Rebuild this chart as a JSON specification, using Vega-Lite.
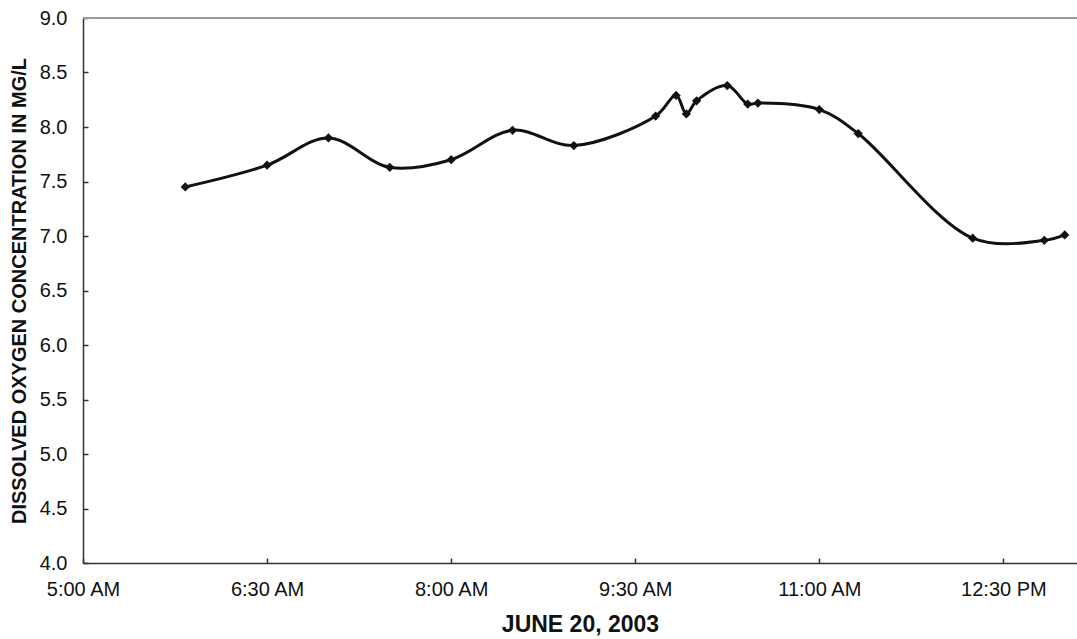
{
  "$schema": "https://vega.github.io/schema/vega-lite/v6.json",
  "width": 994,
  "height": 545,
  "autosize": "none",
  "padding": {"left": 83, "top": 18, "right": 0, "bottom": 76},
  "background": "white",
  "config": {
    "view": {"stroke": null},
    "font": "Liberation Sans",
    "axis": {"labelFont": "Liberation Sans", "titleFont": "Liberation Sans", "labelColor": "#111", "titleColor": "#111"}
  },
  "data": {
    "values": [
      {"time": "2003-06-20T05:50:00Z", "do": 7.45},
      {"time": "2003-06-20T06:30:00Z", "do": 7.65},
      {"time": "2003-06-20T07:00:00Z", "do": 7.90},
      {"time": "2003-06-20T07:30:00Z", "do": 7.63},
      {"time": "2003-06-20T08:00:00Z", "do": 7.70},
      {"time": "2003-06-20T08:30:00Z", "do": 7.97},
      {"time": "2003-06-20T09:00:00Z", "do": 7.83},
      {"time": "2003-06-20T09:40:00Z", "do": 8.10},
      {"time": "2003-06-20T09:50:00Z", "do": 8.29},
      {"time": "2003-06-20T09:55:00Z", "do": 8.12},
      {"time": "2003-06-20T10:00:00Z", "do": 8.24},
      {"time": "2003-06-20T10:15:00Z", "do": 8.38},
      {"time": "2003-06-20T10:25:00Z", "do": 8.21},
      {"time": "2003-06-20T10:30:00Z", "do": 8.22},
      {"time": "2003-06-20T11:00:00Z", "do": 8.16},
      {"time": "2003-06-20T11:19:00Z", "do": 7.94},
      {"time": "2003-06-20T12:15:00Z", "do": 6.98},
      {"time": "2003-06-20T12:50:00Z", "do": 6.96},
      {"time": "2003-06-20T13:00:00Z", "do": 7.01}
    ]
  },
  "encoding": {
    "x": {
      "field": "time",
      "type": "temporal",
      "scale": {
        "type": "utc",
        "domain": [
          {"year": 2003, "month": 6, "date": 20, "hours": 5, "minutes": 0, "utc": true},
          {"year": 2003, "month": 6, "date": 20, "hours": 13, "minutes": 6, "utc": true}
        ]
      },
      "axis": {
        "title": "JUNE 20, 2003",
        "titleFontSize": 23,
        "titleFontWeight": "bold",
        "titlePadding": 14,
        "labelFontSize": 20,
        "labelPadding": 21,
        "format": "%-I:%M %p",
        "values": [
          {"year": 2003, "month": 6, "date": 20, "hours": 5, "minutes": 0, "utc": true},
          {"year": 2003, "month": 6, "date": 20, "hours": 6, "minutes": 30, "utc": true},
          {"year": 2003, "month": 6, "date": 20, "hours": 8, "minutes": 0, "utc": true},
          {"year": 2003, "month": 6, "date": 20, "hours": 9, "minutes": 30, "utc": true},
          {"year": 2003, "month": 6, "date": 20, "hours": 11, "minutes": 0, "utc": true},
          {"year": 2003, "month": 6, "date": 20, "hours": 12, "minutes": 30, "utc": true}
        ],
        "tickSize": -5,
        "tickColor": "#333",
        "domainColor": "#333",
        "domainWidth": 1.5,
        "tickWidth": 1.5,
        "grid": false,
        "labelFlush": false,
        "labelOverlap": false
      }
    },
    "y": {
      "field": "do",
      "type": "quantitative",
      "scale": {"domain": [4, 9], "nice": false, "zero": false},
      "axis": {
        "title": "DISSOLVED OXYGEN CONCENTRATION IN MG/L",
        "titleFontSize": 20,
        "titleFontWeight": "bold",
        "titlePadding": 10,
        "labelFontSize": 20,
        "labelPadding": 21,
        "format": ".1f",
        "values": [4, 4.5, 5, 5.5, 6, 6.5, 7, 7.5, 8, 8.5, 9],
        "tickSize": -5,
        "tickColor": "#333",
        "domainColor": "#333",
        "domainWidth": 1.5,
        "tickWidth": 1.5,
        "grid": false
      }
    }
  },
  "layer": [
    {
      "mark": {"type": "rule", "color": "#999", "strokeWidth": 2},
      "encoding": {"y": {"datum": 9}, "x": {"value": 0}, "x2": {"value": 994}}
    },
    {
      "mark": {"type": "line", "interpolate": "catmull-rom", "color": "#111", "strokeWidth": 3}
    },
    {
      "mark": {"type": "point", "shape": "diamond", "filled": true, "color": "#111", "size": 85, "opacity": 1}
    }
  ]
}
